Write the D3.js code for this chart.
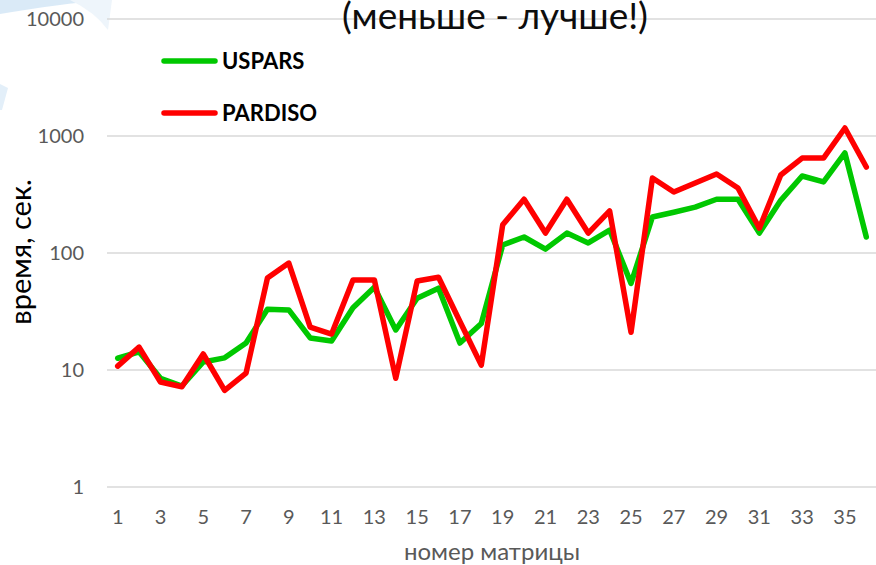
<!DOCTYPE html>
<html><head><meta charset="utf-8">
<script src="https://cdn.jsdelivr.net/npm/d3@7"></script>
<style>html,body{margin:0;padding:0;background:#fff;}svg{display:block;font-family:Lato,"Open Sans",sans-serif;}</style>
</head><body>
<svg id="c" width="876" height="565"></svg>
<script>
const categories = d3.range(1, 37).map(String);
const xTickLabels = ["1","3","5","7","9","11","13","15","17","19","21","23","25","27","29","31","33","35"];
const yTickValues = [1, 10, 100, 1000, 10000];
const usparsValues = [12.6, 14.3, 8.5, 7.3, 11.7, 12.7, 17, 33, 32.6, 18.8, 17.7, 34, 51, 22, 41, 50, 17, 25, 117, 137, 108, 148, 122, 157, 55, 203, 223, 247, 288, 288, 148, 282, 455, 405, 716, 137];
const pardisoValues = [10.8, 15.7, 7.9, 7.2, 13.7, 6.7, 9.4, 61, 82, 23.3, 20.3, 58.9, 58.9, 8.5, 57.6, 62, 26, 11, 174, 288, 148, 288, 148, 229, 21, 437, 332, 397, 473, 359, 163, 464, 647, 647, 1170, 543];
const seriesNames = ["USPARS", "PARDISO"];
const seriesColors = ["#00c800", "#ff0000"];
const titleText = "(меньше - лучше!)";
const xTitle = "номер матрицы";
const yTitle = "время, сек.";

const svg = d3.select("#c");
// faint slide background decoration
const bg = svg.append("g");
bg.append("path").attr("d", "M0,0 L105,0 Q60,4 0,14 Z").attr("fill", "#d6e8f6").attr("opacity", 0.9);
bg.append("path").attr("d", "M70,0 L112,0 L108,30 Q95,12 70,0 Z").attr("fill", "#eef5fb");
bg.append("path").attr("d", "M0,84 L8,88 L2,110 L0,110 Z").attr("fill", "#e3eff9");

const plotL = 107, plotR = 877, yTop = 19, yBot = 487;
const x = d3.scaleBand().domain(categories).range([plotL, plotR]);
const y = d3.scaleLog().domain([1, 10000]).range([yBot, yTop]);
const cx = c => x(c) + x.bandwidth() / 2;

// gridlines
svg.append("g").selectAll("line").data(yTickValues).join("line")
  .attr("x1", plotL).attr("x2", 876)
  .attr("y1", d => y(d)).attr("y2", d => y(d))
  .attr("stroke", "#d9d9d9").attr("stroke-width", 1.5);

// y axis labels
const yAxis = d3.axisLeft(y).tickValues(yTickValues).tickFormat(d3.format("d")).tickSize(0).tickPadding(0);
const ya = svg.append("g").attr("transform", `translate(84,0)`).call(yAxis);
ya.select(".domain").remove();
ya.selectAll("text").attr("font-size", 20).attr("fill", "#595959").attr("font-family", "Lato");

// x axis labels
const xAxis = d3.axisBottom(x).tickValues(xTickLabels).tickSize(0).tickPadding(0);
const xa = svg.append("g").attr("transform", `translate(0,510)`).call(xAxis);
xa.select(".domain").remove();
xa.selectAll("text").attr("font-size", 20).attr("fill", "#595959").attr("font-family", "Lato");

// title
svg.append("text").attr("x", 495).attr("y", 29).attr("text-anchor", "middle")
  .attr("font-size", 37).attr("fill", "#0d0d0d").text(titleText);

// axis titles
svg.append("text").attr("x", 492).attr("y", 560).attr("text-anchor", "middle")
  .attr("font-size", 24).attr("fill", "#595959").text(xTitle);
svg.append("text").attr("transform", "translate(31,252) rotate(-90)").attr("text-anchor", "middle")
  .attr("font-size", 29).attr("fill", "#000").text(yTitle);

// lines
const line = d3.line().x((d, i) => cx(categories[i])).y(d => y(d));
[usparsValues, pardisoValues].forEach((vals, k) => {
  svg.append("path").datum(vals).attr("d", line)
    .attr("fill", "none").attr("stroke", seriesColors[k]).attr("stroke-width", 5.5)
    .attr("stroke-linejoin", "round").attr("stroke-linecap", "round");
});

// legend
const legY = [61, 113];
seriesNames.forEach((n, k) => {
  svg.append("line").attr("x1", 164).attr("x2", 215).attr("y1", legY[k]).attr("y2", legY[k])
    .attr("stroke", seriesColors[k]).attr("stroke-width", 5.5).attr("stroke-linecap", "round");
  svg.append("text").attr("x", 222).attr("y", legY[k]).attr("dy", "0.35em")
    .attr("font-size", 22).attr("font-weight", "bold").attr("fill", "#000").text(n);
});
</script>
</body></html>
